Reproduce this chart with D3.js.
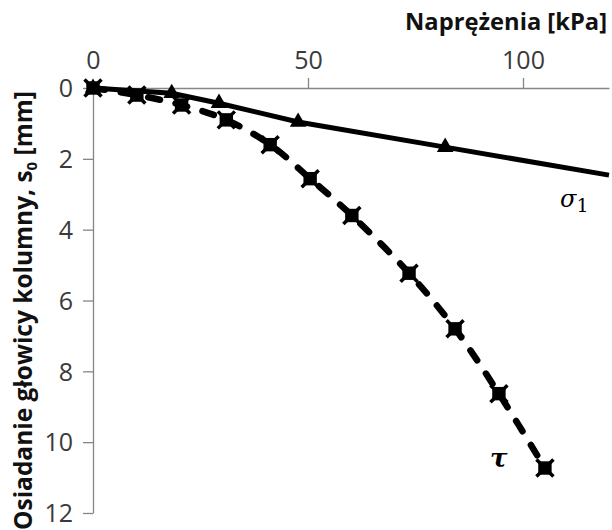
<!DOCTYPE html>
<html>
<head>
<meta charset="utf-8">
<script src="https://cdn.jsdelivr.net/npm/d3@7"></script>
<style>
  body { margin: 0; background: #fff; }
  svg { display: block; font-family: "Open Sans", sans-serif; }
</style>
</head>
<body>
<svg id="chart" width="612" height="530"></svg>
<script>
// stress [kPa] and settlement [mm]
const sigmaX = [0, 18.3, 29.3, 47.7, 81.9];
const sigmaY = [0, 0.15, 0.43, 0.96, 1.67];
const sigmaTrendX = 120;   // solid line carries on to the axis end
const sigmaTrendY = 2.46;
const tauX = [0, 10.2, 20.6, 31, 41.2, 50.5, 60.2, 73.5, 84.2, 94.4, 105.1];
const tauY = [0, 0.2, 0.48, 0.9, 1.6, 2.56, 3.6, 5.23, 6.8, 8.63, 10.73];
const xTicks = [0, 50, 100];
const yTicks = [0, 2, 4, 6, 8, 10, 12];

const svg = d3.select("#chart");
const x = d3.scaleLinear().domain([0, 120]).range([93, 609]);
const y = d3.scaleLinear().domain([0, 12]).range([88, 513]);

// axes
const xAxis = svg.append("g").attr("transform", `translate(0,${y(0)})`)
  .call(d3.axisTop(x).tickValues(xTicks).tickSize(10).tickPadding(9).tickSizeOuter(0));
const yAxis = svg.append("g").attr("transform", `translate(${x(0)},0)`)
  .call(d3.axisLeft(y).tickValues(yTicks).tickSize(10).tickPadding(10).tickSizeOuter(0));
[xAxis, yAxis].forEach(g => {
  g.select(".domain").attr("stroke", "#868686").attr("stroke-width", 1.3);
  g.selectAll(".tick line").attr("stroke", "#868686").attr("stroke-width", 1.3);
  g.selectAll(".tick text").attr("fill", "#3a3a3a").style("font-size", "25px")
    .style("font-family", "'Open Sans', sans-serif");
});
xAxis.selectAll(".tick line").filter(d => d === 0).remove();
yAxis.selectAll(".tick text").attr("dy", "0.35em");

// sigma_1 line (solid, with trend extension)
const sigmaPts = sigmaX.map((v, i) => [v, sigmaY[i]]).concat([[sigmaTrendX, sigmaTrendY]]);
svg.append("path").datum(sigmaPts)
  .attr("fill", "none").attr("stroke", "#000").attr("stroke-width", 5)
  .attr("d", d3.line().x(d => x(d[0])).y(d => y(d[1])));

svg.selectAll(".tri").data(sigmaX.map((v, i) => [v, sigmaY[i]]))
  .join("path").attr("class", "tri")
  .attr("transform", d => `translate(${x(d[0])},${y(d[1])})`)
  .attr("d", d3.symbol(d3.symbolTriangle, 120))
  .attr("fill", "#000");

// tau line (dashed, smoothed)
const tauPts = tauX.map((v, i) => [v, tauY[i]]);
svg.append("path").datum(tauPts)
  .attr("fill", "none").attr("stroke", "#000").attr("stroke-width", 6.5)
  .attr("stroke-linecap", "round").attr("stroke-dasharray", "12,16")
  .attr("d", d3.line().x(d => x(d[0])).y(d => y(d[1])).curve(d3.curveCatmullRom));

const tauMarks = svg.selectAll(".sq").data(tauPts).join("g").attr("class", "sq")
  .attr("transform", d => `translate(${x(d[0])},${y(d[1])})`);
tauMarks.append("path").attr("d", d3.symbol(d3.symbolSquare, 180)).attr("fill", "#000");
tauMarks.append("path").attr("d", d3.symbol(d3.symbolX, 190))
  .attr("fill", "none").attr("stroke", "#000").attr("stroke-width", 3.5);

// series labels
const sLab = svg.append("text").attr("x", 560).attr("y", 207)
  .style("font-family", "'DejaVu Serif', serif").style("font-size", "24px");
sLab.append("tspan").style("font-style", "italic").text("σ");
sLab.append("tspan").attr("dy", 5).style("font-size", "19px").text("1");
svg.append("text").attr("x", 490).attr("y", 467)
  .style("font-family", "'DejaVu Serif', serif").style("font-size", "26px")
  .style("font-style", "italic").style("font-weight", "bold").text("τ");

// axis titles
const fit = (sel, w) => {
  const fs = parseFloat(sel.style("font-size"));
  sel.style("font-size", (fs * w / sel.node().getComputedTextLength()) + "px");
};
const xt = svg.append("text").attr("x", 607).attr("y", 30).attr("text-anchor", "end")
  .style("font-weight", "bold").style("font-size", "21px").attr("fill", "#111")
  .text("Naprężenia [kPa]");
fit(xt, 202);

const yt = svg.append("text").attr("transform", "translate(32,530) rotate(-90)")
  .style("font-weight", "bold").style("font-size", "22px").attr("fill", "#111");
yt.append("tspan").text("Osiadanie głowicy kolumny, s");
yt.append("tspan").attr("dy", 5).style("font-size", "15px").text("0");
yt.append("tspan").attr("dy", -5).text(" [mm]");
fit(yt, 440);
</script>
</body>
</html>
